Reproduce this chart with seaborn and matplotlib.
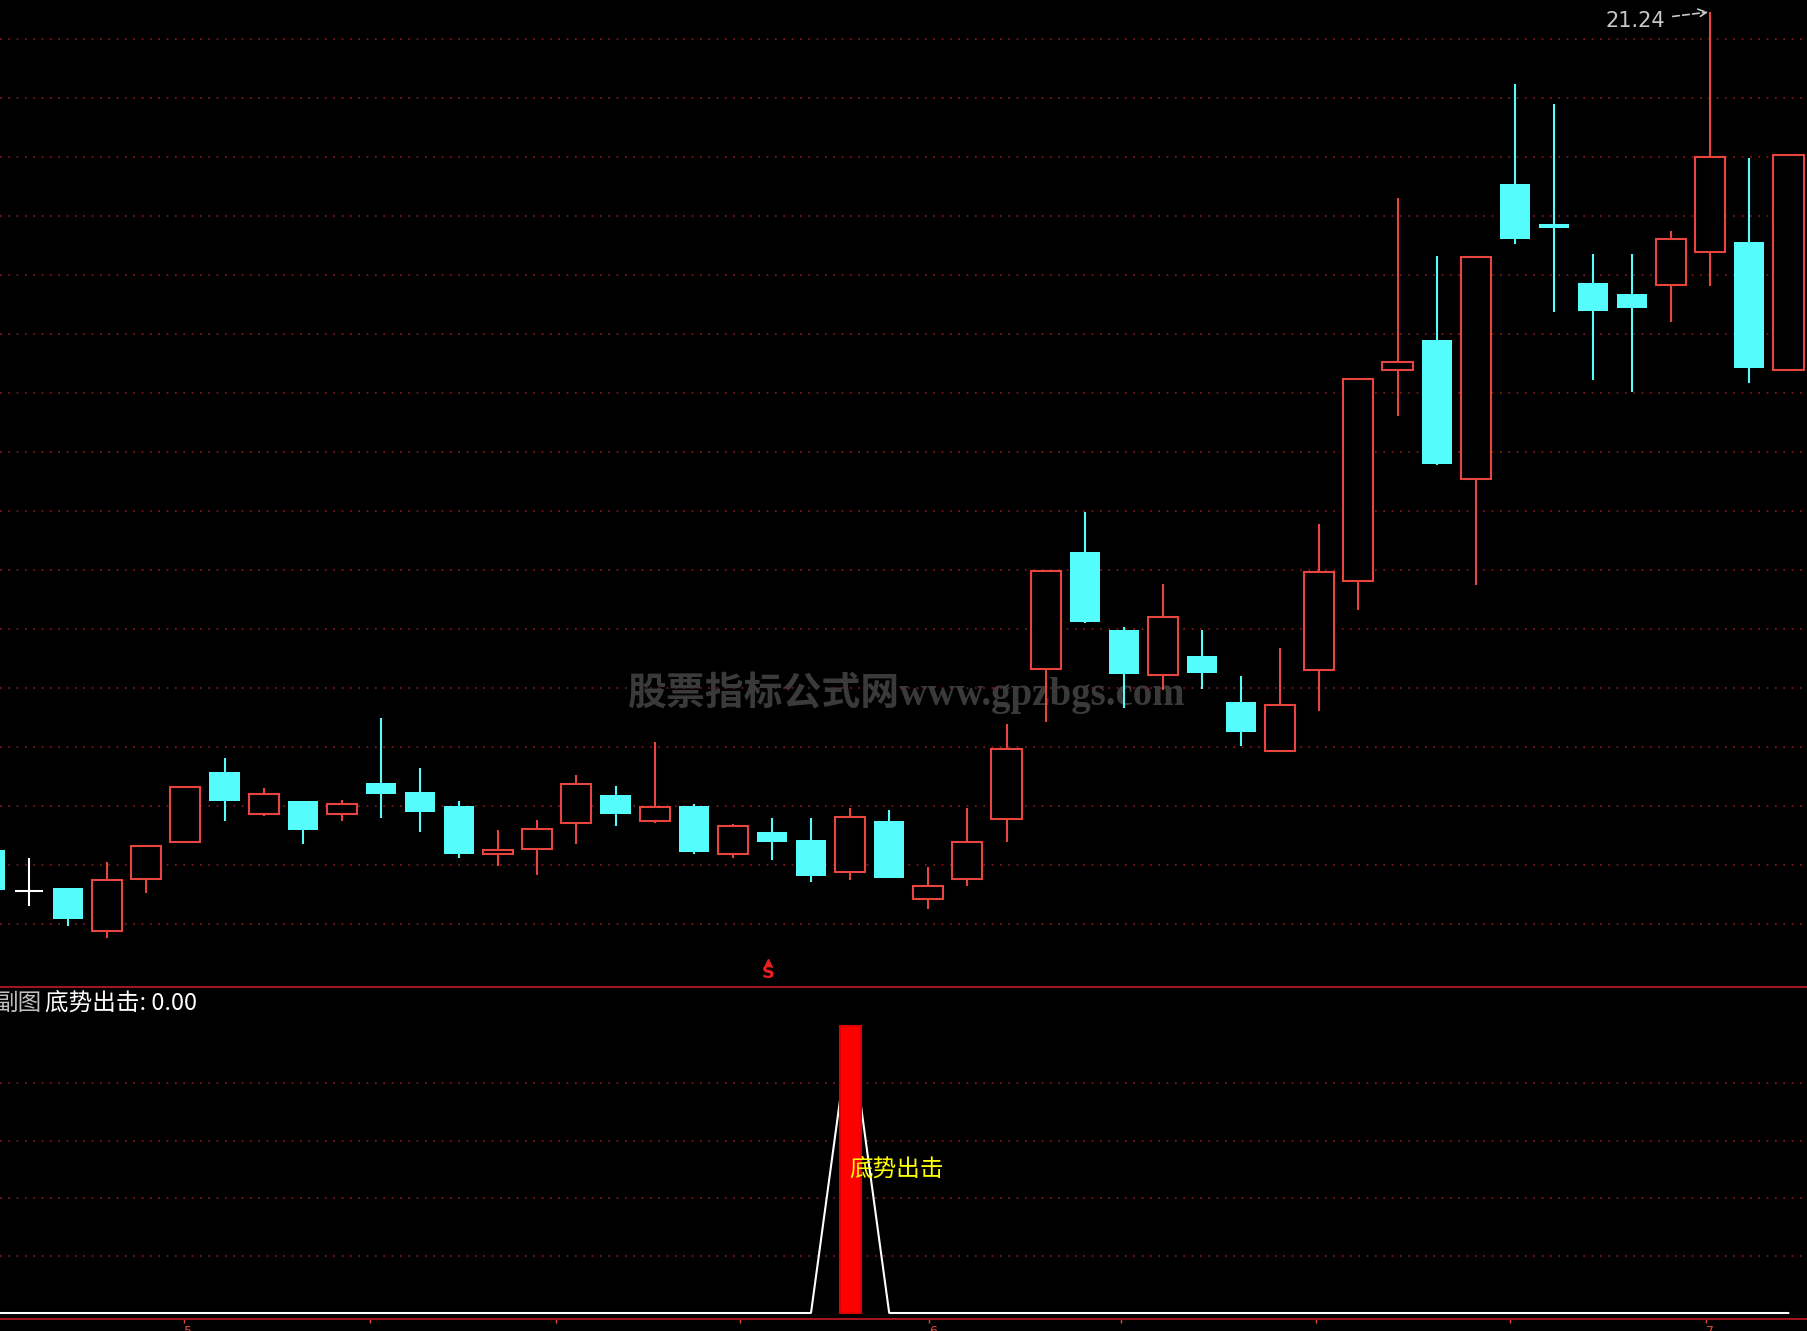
import numpy as np
import pandas as pd
import seaborn as sns
import matplotlib.pyplot as plt
import matplotlib.transforms as mtransforms

# --- data (daily candles, day -1 is cut at the left edge) ---
day = list(range(-1, 46))
opens = [14.14, 13.79, 13.82, 13.45, 13.89, 14.21, 14.80, 14.44, 14.55, 14.44,
         14.71, 14.63, 14.51, 14.10, 14.15, 14.37, 14.60, 14.38, 14.51, 14.10,
         14.29, 14.22, 13.95, 14.38, 13.72, 13.89, 14.40, 15.67, 16.66, 16.00,
         15.62, 15.78, 15.39, 14.98, 15.66, 16.42, 18.21, 18.46, 17.28, 19.78,
         19.44, 18.94, 18.85, 18.93, 19.21, 19.29, 18.21]
highs = [14.18, 14.07, 13.82, 14.04, 14.17, 14.67, 14.92, 14.66, 14.55, 14.56,
         15.26, 14.83, 14.55, 14.31, 14.39, 14.77, 14.68, 15.05, 14.53, 14.36,
         14.41, 14.41, 14.49, 14.48, 13.99, 14.49, 15.21, 16.50, 17.00, 16.03,
         16.39, 16.00, 15.61, 15.85, 16.90, 18.13, 19.66, 19.17, 19.16, 20.63,
         20.46, 19.19, 19.19, 19.38, 21.24, 20.00, 20.03]
lows = [13.77, 13.66, 13.49, 13.39, 13.77, 14.21, 14.38, 14.43, 14.19, 14.38,
        14.41, 14.29, 14.07, 14.00, 13.93, 14.19, 14.34, 14.37, 14.10, 14.07,
        14.05, 13.87, 13.88, 13.90, 13.64, 13.83, 14.21, 15.22, 16.06, 15.34,
        15.49, 15.50, 15.02, 14.98, 15.32, 16.17, 17.82, 17.40, 16.38, 19.27,
        18.70, 18.12, 18.02, 18.61, 18.92, 18.10, 18.21]
closes = [13.80, 13.79, 13.55, 13.88, 14.17, 14.67, 14.55, 14.61, 14.31, 14.53,
          14.61, 14.46, 14.10, 14.14, 14.32, 14.70, 14.44, 14.50, 14.12, 14.34,
          14.21, 13.92, 14.42, 13.90, 13.83, 14.21, 14.99, 16.50, 16.07, 15.63,
          16.11, 15.64, 15.14, 15.37, 16.49, 18.13, 18.27, 17.41, 19.16, 19.32,
          19.41, 18.71, 18.73, 19.32, 20.01, 18.22, 20.03]

signal_day = 21          # day the indicator fires
signal_val = 100.0
s_mark_days = [19]       # "S" marker under the main chart
sub_name = "副图"
signal_name = "底势出击"
month_ticks = [3.96, 8.72, 13.48, 18.18, 23.02, 27.93, 32.92, 37.88, 42.89]
month_labels = ["5", "", "", "", "6", "", "", "", "7"]
watermark = "股票指标公式网www.gpzbgs.com"

df = pd.DataFrame(dict(day=day, open=opens, high=highs, low=lows, close=closes))
df["signal"] = np.where(df["day"] == signal_day, signal_val, 0.0)

RED = '#E8453F'
CYAN = '#54FCFC'
GRID = '#8E1A1E'
AXIS = '#A3141C'
CJK = ['Noto Sans CJK SC', 'DejaVu Sans']

sns.set_style('dark', rc={'axes.facecolor': 'black', 'figure.facecolor': 'black'})
plt.rcParams['font.family'] = ['DejaVu Sans', 'Noto Sans CJK SC']

W, H = 1807, 1331
fig = plt.figure(figsize=(W / 100, H / 100), dpi=100)
ax = fig.add_axes([0, 344 / H, 1, 987 / H])
sub = fig.add_axes([0, 12 / H, 1, 332 / H])

xlim = (-29 / 39.1, (W - 29) / 39.1)

# --- main candle chart ---
up = df.close > df.open
dn = df.close < df.open
eq = df.close == df.open
wick_col = np.where(up, RED, np.where(dn, CYAN, 'white'))
ax.vlines(df.day, df.low, df.high, colors=wick_col, lw=1.5, zorder=2)
ax.bar(df.day[up], (df.close - df.open)[up], bottom=df.open[up], width=0.77,
       facecolor='black', edgecolor=RED, lw=1.5, zorder=3)
ax.bar(df.day[dn], (df.close - df.open)[dn], bottom=df.open[dn], width=0.77,
       color=CYAN, lw=0, zorder=3)
ax.hlines(df.close[eq], df.day[eq] - 0.36, df.day[eq] + 0.36, colors='white', lw=1.5, zorder=3)

ax.set_xlim(*xlim)
ax.set_ylim(12.977, 21.342)
ax.set_yticks(21.011 - 0.5 * np.arange(16))
ax.grid(axis='y', color=GRID, lw=1.2, linestyle=(0, (1, 4)))
ax.grid(axis='x', visible=False)
ax.tick_params(left=False, labelleft=False, bottom=False, labelbottom=False)
for s in ax.spines.values():
    s.set_visible(False)

imax = df.high.idxmax()
ax.annotate(f"{df.high[imax]:.2f}", xy=(df.day[imax] - 0.05, df.high[imax]),
            xytext=(-31, -6.5), textcoords='offset points', ha='right', va='center',
            color='#C8C8C8', fontsize=15,
            arrowprops=dict(arrowstyle='->', color='#C8C8C8', lw=1.2, ls=(0, (4, 2)),
                            shrinkA=3, shrinkB=0))

trans = mtransforms.blended_transform_factory(ax.transData, ax.transAxes)
for d in s_mark_days:
    ax.text(d - 0.1, 0.0142, 'S', transform=trans, color='#E82020', fontsize=13,
            fontweight='bold', ha='center', va='center')
    ax.plot(d - 0.1, 0.0255, marker='^', ms=5, color='#E82020', transform=trans)

ax.text(907 / W, 1 - 693 / H, watermark, transform=fig.transFigure, ha='center', va='center',
        color='#3A3A3A', fontsize=28, fontweight='bold',
        family=['Liberation Serif', 'Noto Sans CJK SC'], zorder=1)

# --- indicator sub chart ---
sns.lineplot(data=df, x='day', y='signal', ax=sub, color='white', lw=1.5, zorder=2,
             solid_joinstyle='bevel')
sns.barplot(data=df[df.signal > 0], x='day', y='signal', ax=sub, native_scale=True,
            color='#FF0000', saturation=1, width=0.54, linewidth=1.5,
            edgecolor='#E00000', errorbar=None, zorder=3)
sub.text(signal_day - 0.03, signal_val / 2, signal_name, color='#FFFF00', fontsize=17,
         family=CJK, ha='left', va='center', zorder=5)

sub.set_xlim(*xlim)
sub.set_ylim(-2.09, 113.6)
sub.set(xlabel='', ylabel='')
sub.set_yticks([20, 40, 60, 80])
sub.grid(axis='y', color=GRID, lw=1.2, linestyle=(0, (1, 4)))
sub.grid(axis='x', visible=False)
sub.set_xticks(month_ticks)
sub.set_xticklabels(month_labels, fontsize=9, color=RED, ha='left')
sub.tick_params(axis='x', bottom=True, colors=RED, length=3, width=1, pad=1, direction='out')
sub.tick_params(axis='y', left=False, labelleft=False)
for side in ['left', 'right']:
    sub.spines[side].set_visible(False)
for side in ['top', 'bottom']:
    sub.spines[side].set_visible(True)
    sub.spines[side].set_color(AXIS)
    sub.spines[side].set_linewidth(1.5)

fig.text(-5 / W, 1 - 1003 / H, sub_name, color='#C0C0C0', fontsize=17, family=CJK,
         ha='left', va='center')
fig.text(45 / W, 1 - 1003 / H, f"{signal_name}: 0.00", color='white', fontsize=17,
         family=CJK, ha='left', va='center')

fig.savefig('out.png', dpi=100, facecolor='black')
